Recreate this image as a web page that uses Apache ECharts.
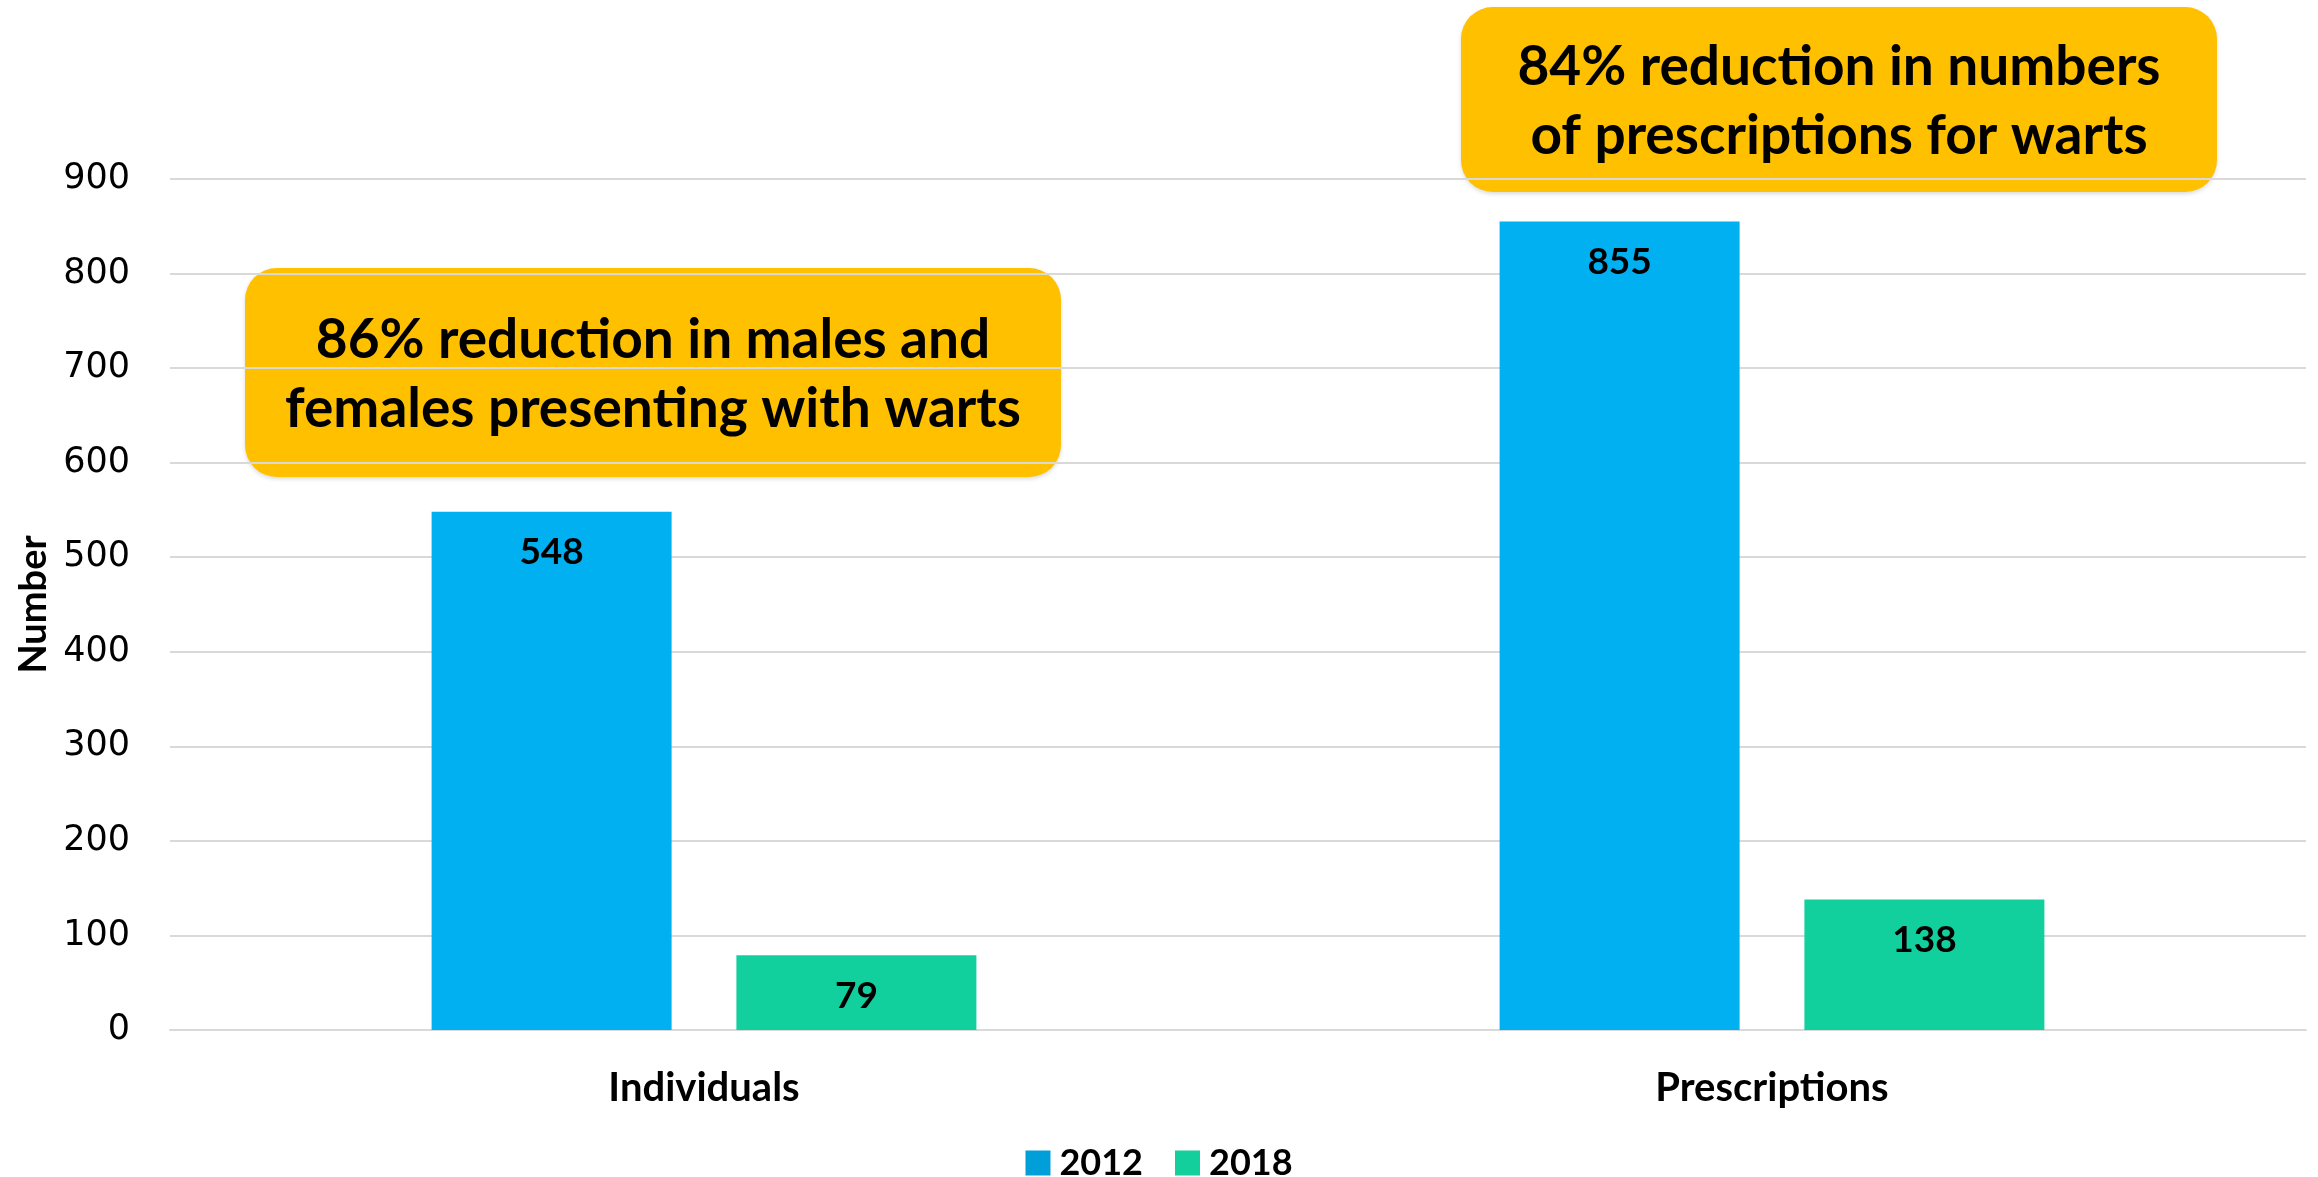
<!DOCTYPE html>
<html>
<head>
<meta charset="utf-8">
<script src="https://cdn.jsdelivr.net/npm/echarts@6/dist/echarts.min.js"></script>
<style>
html,body{margin:0;padding:0;background:#fff;}
#chart{width:2318px;height:1177px;}
</style>
</head>
<body>
<div id="chart"></div>
<script>
const categories = ['Individuals', 'Prescriptions'];
const seriesNames = ['2012', '2018'];
const values2012 = [548, 855];
const values2018 = [79, 138];
const yTicks = [0, 100, 200, 300, 400, 500, 600, 700, 800, 900];
const annotationTexts = [
  '86% reduction in males and\nfemales presenting with warts',
  '84% reduction in numbers\nof prescriptions for warts'
];

const chart = echarts.init(document.getElementById('chart'), null, {renderer: 'canvas'});
const labelFont = 'Lato, "Open Sans", sans-serif';

const barLabel = {
  show: true,
  position: 'insideTop',
  distance: 22,
  color: '#000',
  fontFamily: labelFont,
  fontWeight: 'bold',
  fontSize: 37
};

function box(x, y, w, h, text) {
  return {
    type: 'group',
    left: x, top: y,
    children: [
      {
        type: 'rect',
        shape: {x: 0, y: 0, width: w, height: h, r: 32},
        style: {
          fill: '#FFC000',
          shadowBlur: 4,
          shadowColor: 'rgba(0,0,0,0.15)',
          shadowOffsetY: 2
        }
      },
      {
        type: 'text',
        x: w / 2, y: h / 2 + 2,
        style: {
          text: text,
          fill: '#000',
          font: 'bold 55px ' + labelFont,
          lineHeight: 69,
          align: 'center',
          verticalAlign: 'middle'
        }
      }
    ]
  };
}

chart.setOption({
  animation: false,
  backgroundColor: '#fff',
  grid: {left: 170, right: 12, top: 179, bottom: 147, containLabel: false, outerBoundsMode: 'none'},
  legend: {
    data: [
      {name: seriesNames[0], itemStyle: {color: '#009FDA'}},
      {name: seriesNames[1], itemStyle: {color: '#12CF9B'}}
    ],
    top: 1140,
    left: 'center',
    icon: 'rect',
    itemWidth: 25,
    itemHeight: 25,
    itemGap: 32,
    textStyle: {
      fontFamily: labelFont,
      fontWeight: 'bold',
      fontSize: 36,
      color: '#000',
      padding: [0, 0, 0, 4]
    }
  },
  xAxis: {
    type: 'category',
    data: categories,
    axisTick: {show: false},
    axisLine: {lineStyle: {color: '#D9D9D9', width: 2}},
    axisLabel: {
      margin: 38,
      color: '#000',
      fontFamily: labelFont,
      fontWeight: 'bold',
      fontSize: 40
    }
  },
  yAxis: {
    type: 'value',
    min: yTicks[0],
    max: yTicks[yTicks.length - 1],
    interval: yTicks[1] - yTicks[0],
    name: 'Number',
    nameLocation: 'middle',
    nameGap: 116,
    nameRotate: 90,
    nameTextStyle: {
      fontFamily: labelFont,
      fontWeight: 'bold',
      fontSize: 38,
      color: '#000'
    },
    axisLine: {show: false},
    axisTick: {show: false},
    splitLine: {lineStyle: {color: '#D9D9D9', width: 2}},
    axisLabel: {
      margin: 40,
      color: '#000',
      fontFamily: '"DejaVu Sans", Verdana, sans-serif',
      fontSize: 35
    }
  },
  series: [
    {
      name: seriesNames[0],
      type: 'bar',
      data: values2012,
      barWidth: 240,
      barGap: '27%',
      itemStyle: {color: '#00B0F0'},
      label: barLabel
    },
    {
      name: seriesNames[1],
      type: 'bar',
      data: values2018,
      barWidth: 240,
      itemStyle: {color: '#12D09D'},
      label: barLabel
    }
  ],
  graphic: [
    box(245, 268, 816, 209, annotationTexts[0]),
    box(1461, 7, 756, 185, annotationTexts[1])
  ]
});
</script>
</body>
</html>
